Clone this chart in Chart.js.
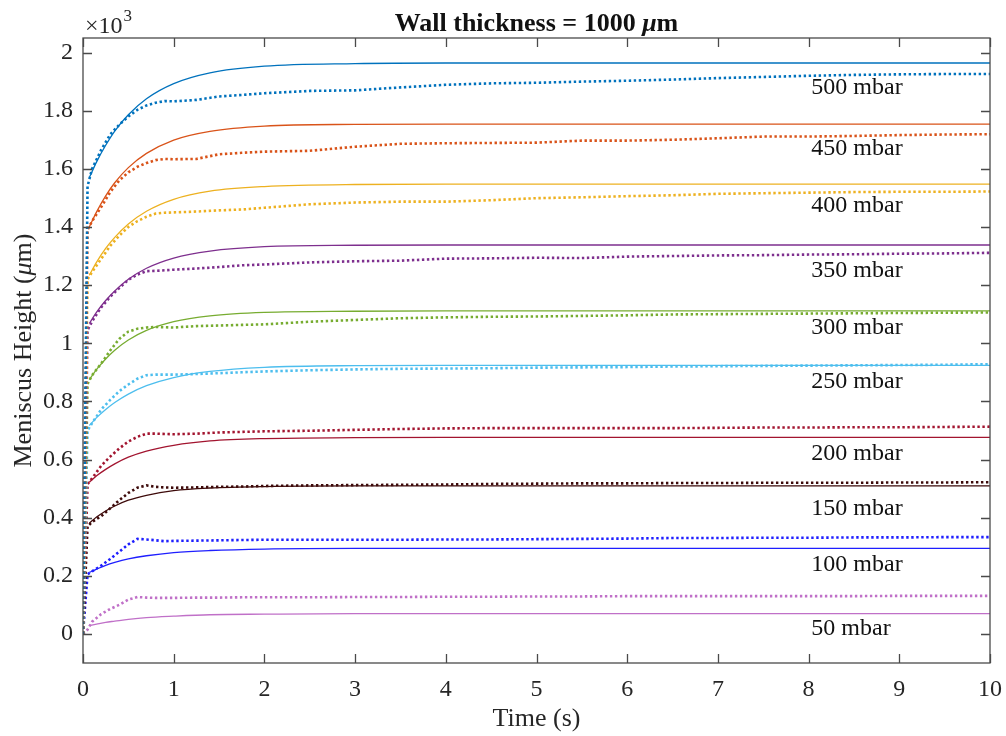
<!DOCTYPE html>
<html>
<head>
<meta charset="utf-8">
<script src="https://cdn.jsdelivr.net/npm/chart.js@4.4.1/dist/chart.umd.min.js"></script>
<style>
  html, body { margin: 0; padding: 0; background: #fff; }
</style>
</head>
<body>
<canvas id="meniscus" width="1006" height="736"></canvas>
<script>
// pressures, top to bottom
const pressures = ['500 mbar', '450 mbar', '400 mbar', '350 mbar', '300 mbar', '250 mbar', '200 mbar', '150 mbar', '100 mbar', '50 mbar'];
const colors = ['#0072BD', '#D95319', '#EDB120', '#7E2F8E', '#77AC30', '#4DBEEE', '#A2142F', '#3d0a0a', '#1f1fff', '#c070c8'];

// fitted curves (solid), height in um
const fitTime = [0.07, 0.15, 0.25, 0.35, 0.5, 0.7, 1.0, 1.4, 2, 3, 4, 6, 10];
const fit500 = [1570, 1624, 1681, 1730, 1786, 1841, 1893, 1930, 1953, 1962, 1964, 1964, 1964];
const fit450 = [1400, 1452, 1507, 1552, 1604, 1653, 1699, 1729, 1747, 1753, 1754, 1754, 1754];
const fit400 = [1234, 1279, 1326, 1364, 1410, 1454, 1495, 1523, 1539, 1546, 1547, 1547, 1547];
const fit350 = [1068, 1107, 1147, 1180, 1220, 1258, 1293, 1317, 1332, 1337, 1338, 1338, 1338];
const fit300 = [875, 910, 946, 976, 1011, 1044, 1074, 1094, 1106, 1110, 1111, 1111, 1111];
const fit250 = [717, 744, 772, 796, 825, 854, 882, 903, 917, 923, 924, 924, 924];
const fit200 = [522, 544, 566, 585, 608, 629, 649, 664, 672, 675, 676, 676, 676];
const fit150 = [381, 402, 423, 440, 460, 477, 493, 502, 507, 509, 509, 509, 509];
const fit100 = [212, 223, 236, 246, 258, 269, 280, 287, 292, 294, 294, 294, 294];
const fit50 = [29, 34, 40, 44, 50, 56, 61, 66, 68, 70, 70, 70, 70];

// measured data (dotted)
const expTime = [0, 0.05, 0.1, 0.2, 0.3, 0.4, 0.5, 0.6, 0.7, 0.8, 0.9, 1.0, 1.25, 1.5, 1.75, 2, 2.5, 3, 3.5, 4, 4.5, 5, 5.5, 6, 6.5, 7, 7.5, 8, 8.5, 9, 9.5, 10];
const exp500 = [0, 1540, 1600, 1665, 1718, 1752, 1780, 1803, 1818, 1827, 1833, 1832, 1837, 1849, 1854, 1860, 1868, 1870, 1880, 1889, 1894, 1896, 1900, 1903, 1907, 1912, 1916, 1920, 1923, 1925, 1926, 1926];
const exp450 = [0, 1390, 1420, 1468, 1520, 1560, 1588, 1607, 1620, 1630, 1634, 1633, 1634, 1650, 1655, 1659, 1662, 1676, 1686, 1688, 1689, 1690, 1697, 1697, 1700, 1705, 1711, 1711, 1713, 1716, 1718, 1719];
const exp400 = [0, 1220, 1245, 1290, 1335, 1370, 1400, 1420, 1435, 1446, 1449, 1450, 1453, 1457, 1460, 1466, 1478, 1484, 1487, 1487, 1492, 1499, 1502, 1506, 1509, 1514, 1516, 1518, 1520, 1521, 1521, 1522];
const exp350 = [0, 1045, 1075, 1123, 1160, 1190, 1218, 1236, 1248, 1249, 1251, 1253, 1257, 1262, 1268, 1271, 1278, 1282, 1284, 1291, 1292, 1294, 1293, 1298, 1300, 1302, 1303, 1305, 1306, 1308, 1309, 1311];
const exp300 = [0, 860, 890, 930, 975, 1015, 1040, 1050, 1054, 1056, 1055, 1054, 1059, 1061, 1063, 1065, 1074, 1080, 1086, 1089, 1091, 1092, 1094, 1096, 1099, 1100, 1101, 1102, 1103, 1104, 1105, 1106];
const exp250 = [0, 700, 725, 772, 805, 835, 858, 878, 890, 892, 892, 892, 894, 897, 900, 903, 907, 910, 912, 913, 914, 916, 917, 918, 920, 921, 922, 923, 924, 925, 926, 928];
const exp200 = [0, 515, 535, 578, 610, 638, 662, 678, 689, 689, 688, 687, 689, 693, 695, 697, 699, 702, 705, 707, 708, 708, 708, 708, 708, 709, 710, 710, 711, 711, 712, 713];
const exp150 = [0, 370, 385, 405, 432, 460, 485, 503, 511, 506, 504, 503, 504, 506, 507, 509, 511, 512, 513, 514, 516, 517, 518, 518, 519, 519, 520, 520, 520, 521, 521, 522];
const exp100 = [0, 205, 215, 235, 258, 283, 308, 327, 325, 322, 319, 320, 321, 322, 323, 324, 324, 324, 324, 325, 325, 326, 327, 328, 330, 330, 331, 331, 332, 332, 333, 333];
const exp50 = [0, 15, 42, 68, 86, 100, 118, 127, 125, 124, 124, 124, 125, 125, 126, 126, 126, 127, 127, 128, 128, 129, 129, 130, 130, 130, 130, 130, 130, 131, 131, 131];

// where the pressure labels sit (time, height)
const labelTime = 8.03;
const labelHeight = [1878, 1668, 1472, 1251, 1055, 869, 621, 432, 239, 18];

const xTicks = [0, 1, 2, 3, 4, 5, 6, 7, 8, 9, 10];
const yTicks = [0, 200, 400, 600, 800, 1000, 1200, 1400, 1600, 1800, 2000];

const fits = [fit500, fit450, fit400, fit350, fit300, fit250, fit200, fit150, fit100, fit50];
const exps = [exp500, exp450, exp400, exp350, exp300, exp250, exp200, exp150, exp100, exp50];

const SERIF = '"Liberation Serif", "Times New Roman", serif';

const datasets = [];
pressures.forEach((p, i) => {
    datasets.push({
        label: p + ' data',
        data: expTime.map((t, k) => ({x: t, y: exps[i][k]})),
        borderColor: colors[i],
        borderWidth: 2.6,
        borderDash: [2.4, 2.6],
        borderCapStyle: 'butt',
        pointRadius: 0,
        tension: 0
    });
    datasets.push({
        label: p + ' fit',
        data: fitTime.map((t, k) => ({x: t, y: fits[i][k]})),
        borderColor: colors[i],
        borderWidth: 1.3,
        pointRadius: 0,
        cubicInterpolationMode: 'monotone'
    });
});

function drawRich(ctx, parts, x, y, align) {
    let total = 0;
    parts.forEach(p => { ctx.font = p.f; total += ctx.measureText(p.t).width; });
    let cx = align === 'center' ? x - total / 2 : x;
    ctx.textAlign = 'left';
    parts.forEach(p => {
        ctx.font = p.f;
        ctx.fillText(p.t, cx, y);
        cx += ctx.measureText(p.t).width;
    });
}

const frame = {
    id: 'frame',
    afterDatasetsDraw(chart) {
        const {ctx, chartArea: a, scales: {x, y}} = chart;
        ctx.save();
        ctx.strokeStyle = '#4a4a4a';
        ctx.lineWidth = 1.3;
        ctx.strokeRect(a.left, a.top, a.right - a.left, a.bottom - a.top);
        const L = 9;
        ctx.beginPath();
        xTicks.forEach(v => {
            const px = Math.round(x.getPixelForValue(v)) + 0.5;
            ctx.moveTo(px, a.bottom); ctx.lineTo(px, a.bottom - L);
            ctx.moveTo(px, a.top); ctx.lineTo(px, a.top + L);
        });
        yTicks.forEach(v => {
            const py = Math.round(y.getPixelForValue(v)) + 0.5;
            ctx.moveTo(a.left, py); ctx.lineTo(a.left + L, py);
            ctx.moveTo(a.right, py); ctx.lineTo(a.right - L, py);
        });
        ctx.stroke();

        ctx.fillStyle = '#111';
        ctx.textBaseline = 'middle';
        ctx.font = '24px ' + SERIF;
        ctx.textAlign = 'left';
        pressures.forEach((p, i) => {
            ctx.fillText(p, x.getPixelForValue(labelTime), y.getPixelForValue(labelHeight[i]));
        });

        // title
        ctx.textBaseline = 'alphabetic';
        const cx = (a.left + a.right) / 2;
        drawRich(ctx, [
            {t: 'Wall thickness = 1000 ', f: 'bold 26px ' + SERIF},
            {t: 'μ', f: 'italic bold 26px ' + SERIF},
            {t: 'm', f: 'bold 26px ' + SERIF}
        ], cx, 31, 'center');

        // exponent
        ctx.fillStyle = '#262626';
        drawRich(ctx, [{t: '×10', f: '24px ' + SERIF}], a.left + 2, 33, 'left');
        ctx.font = '24px ' + SERIF;
        const w = ctx.measureText('×10').width;
        ctx.font = '17px ' + SERIF;
        ctx.fillText('3', a.left + 3 + w, 21);

        // axis titles
        ctx.font = '26px ' + SERIF;
        ctx.textAlign = 'center';
        ctx.fillText('Time (s)', cx, 726);

        ctx.translate(31, (a.top + a.bottom) / 2);
        ctx.rotate(-Math.PI / 2);
        drawRich(ctx, [
            {t: 'Meniscus Height (', f: '26px ' + SERIF},
            {t: 'μ', f: 'italic 26px ' + SERIF},
            {t: 'm)', f: '26px ' + SERIF}
        ], 0, 0, 'center');
        ctx.restore();
    }
};

function noLabelPadding(s) {
    s.paddingLeft = 0;
    s.paddingRight = 0;
    s.paddingTop = 0;
    s.paddingBottom = 0;
}

new Chart(document.getElementById('meniscus'), {
    type: 'line',
    data: {datasets: datasets},
    options: {
        responsive: false,
        animation: false,
        devicePixelRatio: 1,
        layout: {padding: {top: 38, right: 16, left: 0, bottom: 0}},
        plugins: {legend: {display: false}, tooltip: {enabled: false}, title: {display: false}},
        scales: {
            x: {
                type: 'linear',
                min: 0,
                max: 10,
                grid: {display: false, drawTicks: false},
                border: {display: false},
                afterBuildTicks: s => { s.ticks = xTicks.map(v => ({value: v})); },
                afterFit: s => { s.height = 73; noLabelPadding(s); },
                ticks: {
                    font: {family: SERIF, size: 24},
                    color: '#262626',
                    padding: 12,
                    maxRotation: 0,
                    autoSkip: false
                }
            },
            y: {
                type: 'linear',
                min: -100,
                max: 2050,
                grid: {display: false, drawTicks: false},
                border: {display: false},
                afterBuildTicks: s => { s.ticks = yTicks.map(v => ({value: v})); },
                afterFit: s => { s.width = 83; noLabelPadding(s); },
                ticks: {
                    font: {family: SERIF, size: 24},
                    color: '#262626',
                    padding: 10,
                    autoSkip: false,
                    callback: v => String(v / 1000)
                }
            }
        }
    },
    plugins: [frame]
});
</script>
</body>
</html>
